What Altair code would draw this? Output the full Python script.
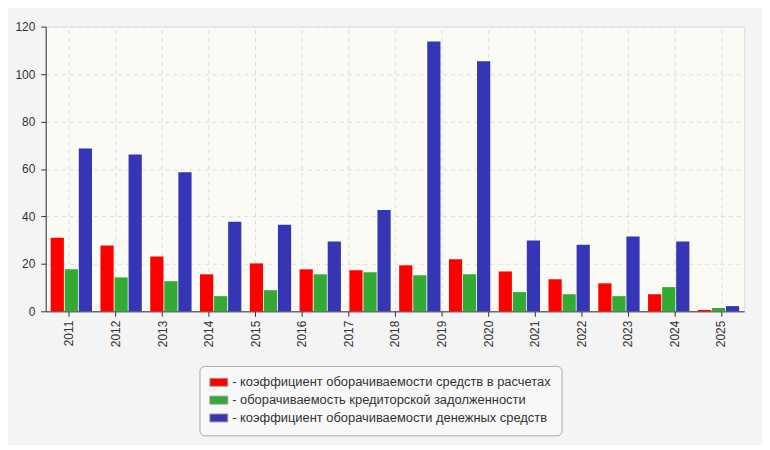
import altair as alt
import pandas as pd

# Tick labels on the x axis (15 labels)
years = [str(y) for y in range(2011, 2026)]

# Series names (legend)
series_names = [
    "коэффициент оборачиваемости средств в расчетах",
    "оборачиваемость кредиторской задолженности",
    "коэффициент оборачиваемости денежных средств",
]

# Bar values (14 groups as drawn in the picture)
red_vals = [31.0, 27.7, 23.1, 15.6, 20.2, 17.7, 17.3, 19.4, 21.9, 16.8, 13.5, 11.8, 7.2, 0.6]
green_vals = [17.7, 14.3, 12.7, 6.4, 8.9, 15.6, 16.5, 15.2, 15.6, 8.1, 7.2, 6.4, 10.2, 1.4]
blue_vals = [68.6, 66.1, 58.6, 37.7, 36.5, 29.4, 42.7, 113.7, 105.4, 29.8, 28.1, 31.5, 29.4, 2.2]

colors = ["#ff0000", "#33aa33", "#3535b5"]

rows = []
for name, vals in zip(series_names, [red_vals, green_vals, blue_vals]):
    for i, v in enumerate(vals):
        rows.append({"slot": i, "series": name, "value": v})
df = pd.DataFrame(rows)
axis_df = pd.DataFrame({"year": years})

FONT = "Liberation Sans"

bars = alt.Chart(df).mark_bar().encode(
    x=alt.X("slot:O", axis=None,
            scale=alt.Scale(paddingInner=0.17, paddingOuter=0.1)),
    xOffset=alt.XOffset("series:N", sort=series_names,
                        scale=alt.Scale(paddingInner=0.06)),
    y=alt.Y("value:Q",
            scale=alt.Scale(domain=[0, 120], nice=False),
            axis=alt.Axis(values=[0, 20, 40, 60, 80, 100, 120], title=None,
                          grid=True, gridDash=[4, 4], gridColor="#dddddd",
                          domainColor="#333333", tickColor="#333333", tickSize=5,
                          labelFontSize=12, labelColor="#333333", labelFont=FONT,
                          labelPadding=6)),
    color=alt.Color("series:N", sort=series_names,
                    scale=alt.Scale(domain=series_names, range=colors),
                    legend=alt.Legend(
                        orient="none", legendX=155, legendY=342,
                        direction="vertical", title=None,
                        labelExpr="'- ' + datum.label",
                        symbolType="M-1.5,-0.6667H1.5V0.6667H-1.5Z", symbolSize=144,
                        symbolStrokeColor="#999999", symbolStrokeWidth=1,
                        symbolOffset=3,
                        fillColor="#f8f8f8", strokeColor="#aaaaaa", cornerRadius=5,
                        padding=10, labelFontSize=13, labelFont=FONT,
                        labelColor="#333333", rowPadding=4, labelLimit=600,
                        labelOffset=7)),
)

xaxis = alt.Chart(axis_df).mark_point(opacity=0).encode(
    x=alt.X("year:O", sort=years, title=None,
            scale=alt.Scale(paddingInner=0, paddingOuter=0),
            axis=alt.Axis(labelAngle=270, labelAlign="right", labelBaseline="middle",
                          grid=True, gridDash=[4, 4], gridColor="#dddddd",
                          domainColor="#333333", tickColor="#333333", tickSize=5,
                          labelFontSize=12, labelColor="#333333", labelFont=FONT,
                          labelPadding=4)),
)

chart = alt.layer(xaxis, bars).resolve_scale(x="independent").properties(
    width=704, height=287,
    autosize=alt.AutoSizeParams(type="none"),
    padding={"left": 38, "top": 17, "right": 18, "bottom": 133},
    background="#f4f4f4",
).configure_view(fill="#fbfbf5", stroke="#dddddd")

chart.save("out.html", embed_options={"renderer": "svg", "actions": False})
